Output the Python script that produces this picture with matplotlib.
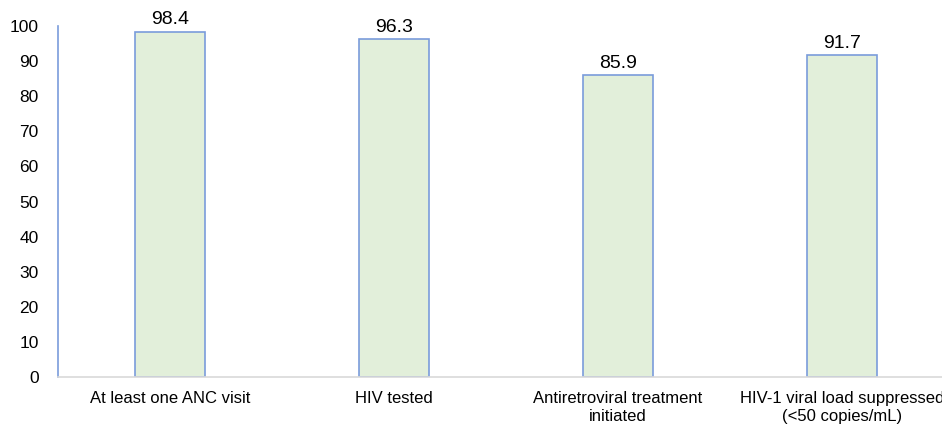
import numpy as np
import matplotlib.pyplot as plt

plt.rcParams['font.family'] = ['Liberation Sans', 'DejaVu Sans']

categories = ["At least one ANC visit", "HIV tested",
              "Antiretroviral treatment\ninitiated",
              "HIV-1 viral load suppressed\n(<50 copies/mL)"]
values = [98.4, 96.3, 85.9, 91.7]

fig = plt.figure(figsize=(9.42, 4.25), dpi=100)
ax = fig.add_axes([58/942, 48/425, 896/942, 351/425])

x = np.arange(len(categories))
bars = ax.bar(x, values, width=0.31, color="#E2EFDA", edgecolor="#7A9CDB", linewidth=1.2)

for xi, v in zip(x, values):
    ax.text(xi, v + 0.9, str(v), ha="center", va="bottom", fontsize=14)

ax.set_xlim(-0.5, 3.5)
ax.set_ylim(0, 100)
ax.set_yticks(range(0, 101, 10))
ax.set_xticks(x)
ax.set_xticklabels(categories, fontsize=12, linespacing=1.3)
ax.tick_params(axis='y', length=0, labelsize=12.5, pad=14)
ax.tick_params(axis='x', length=0, pad=10)

for s in ["top", "right"]:
    ax.spines[s].set_visible(False)
ax.spines["left"].set_color("#7A9CDB")
ax.spines["left"].set_linewidth(1.2)
ax.spines["bottom"].set_color("#D9D9D9")
ax.spines["bottom"].set_linewidth(1.2)

fig.savefig("out.png", dpi=100)
